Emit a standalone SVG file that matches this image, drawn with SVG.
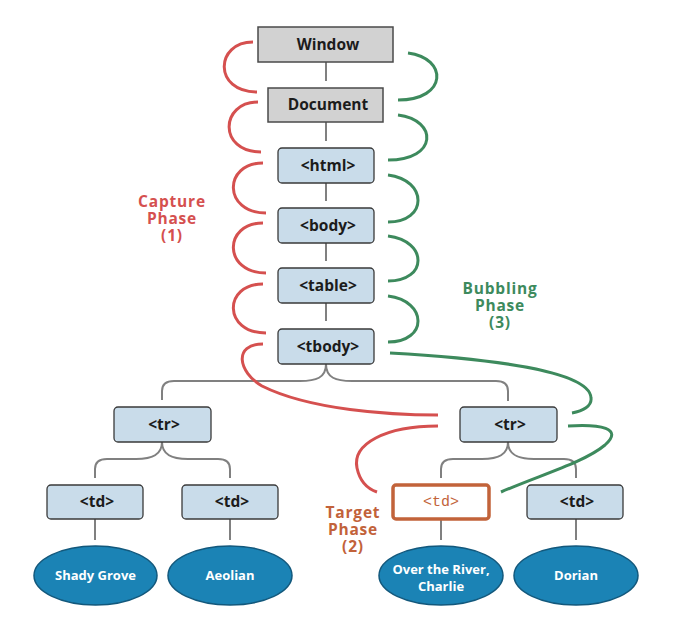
<svg xmlns="http://www.w3.org/2000/svg" width="680" height="618" viewBox="0 0 680 618">
<style>
.gray{fill:#d2d2d2;stroke:#4a4a4a;stroke-width:1.5}
.node{fill:#c9dcea;stroke:#3a3a3a;stroke-width:1.3}
.leaf{fill:#1b83b5;stroke:#12587c;stroke-width:1.5}
.lbl{font-family:"Open Sans","Liberation Sans",sans-serif;font-weight:bold;font-size:15.5px;fill:#1c1c1c;text-anchor:middle}
.ltxt{font-family:"Open Sans","Liberation Sans",sans-serif;font-weight:bold;font-size:13px;fill:#ffffff;text-anchor:middle}
.phase{font-family:"Open Sans","Liberation Sans",sans-serif;font-weight:bold;font-size:15.5px;letter-spacing:0.8px;text-anchor:middle}
.tree{fill:none;stroke:#808080;stroke-width:2}
.cap{fill:none;stroke:#d5504f;stroke-width:3;stroke-linecap:butt}
.bub{fill:none;stroke:#3d8a5d;stroke-width:3;stroke-linecap:butt}
</style>
<g id="connectors">
<path class="tree" d="M326 62 V81 M326 122 V141 M326 183 V201 M326 243 V261 M326 303 V321"/>
<path class="tree" d="M326 364 C326 378 316 381 300 381 L174 381 Q162 381 162 391 V400 M326 364 C326 378 336 381 352 381 L496 381 Q508 381 508 391 V401"/>
<path class="tree" d="M162 442 C162 455 152 459 136 459 L107 459 Q95 459 95 469 V478 M162 442 C162 455 172 459 188 459 L218 459 Q230 459 230 469 V478"/>
<path class="tree" d="M508 442 C508 455 498 459 482 459 L453 459 Q441 459 441 469 V478 M508 442 C508 455 518 459 534 459 L564 459 Q576 459 576 469 V478"/>
<path class="tree" d="M95 519 V540 M230 519 V540 M441 519 V540 M576 519 V540"/>
</g>
<g id="capture">
<path class="cap" d="M253 42 C215 42 213 92 257 92"/>
<path class="cap" d="M258 102 C220 102 218 152 261 152"/>
<path class="cap" d="M263 163 C223 163 223 213 266 213"/>
<path class="cap" d="M263 223 C223 223 223 273 266 273"/>
<path class="cap" d="M263 284 C223 284 223 333 266 333"/>
<path class="cap" d="M263 344 C233 344 238 372 262 386 C310 410 390 415 438 415"/>
<path class="cap" d="M438 426 C385 426 352 444 357 468 C360 482 368 489 377 492"/>
</g>
<g id="bubble">
<path class="bub" d="M408 53 C448 58 448 100 398 100"/>
<path class="bub" d="M398 115 C438 120 438 160 388 160"/>
<path class="bub" d="M388 175 C428 180 428 222 388 222"/>
<path class="bub" d="M388 236 C428 241 428 281 388 281"/>
<path class="bub" d="M388 296 C428 301 428 342 388 342"/>
<path class="bub" d="M390 353 C480 358 590 370 591 398 C592 406 583 411 572 413"/>
<path class="bub" d="M568 426 C600 424 624 428 605 445 C585 462 540 475 501 492"/>
</g>
<g id="window"><rect class="gray" x="258" y="27" width="135" height="35"/><text class="lbl" x="328" y="50">Window</text></g>
<g id="document"><rect class="gray" x="268" y="88" width="115" height="34"/><text class="lbl" x="328" y="110">Document</text></g>
<g id="html"><rect class="node" x="278" y="148" width="96" height="35" rx="4"/><text class="lbl" x="328" y="171">&lt;html&gt;</text></g>
<g id="body"><rect class="node" x="278" y="208" width="96" height="35" rx="4"/><text class="lbl" x="328" y="231">&lt;body&gt;</text></g>
<g id="table"><rect class="node" x="278" y="268" width="96" height="35" rx="4"/><text class="lbl" x="328" y="291">&lt;table&gt;</text></g>
<g id="tbody"><rect class="node" x="278" y="329" width="96" height="35" rx="4"/><text class="lbl" x="328" y="352">&lt;tbody&gt;</text></g>
<g id="tr1"><rect class="node" x="114" y="407" width="97" height="35" rx="4"/><text class="lbl" x="164" y="430">&lt;tr&gt;</text></g>
<g id="tr2"><rect class="node" x="460" y="407" width="97" height="35" rx="4"/><text class="lbl" x="510" y="430">&lt;tr&gt;</text></g>
<g id="td1"><rect class="node" x="47" y="485" width="96" height="34" rx="4"/><text class="lbl" x="97" y="507">&lt;td&gt;</text></g>
<g id="td2"><rect class="node" x="182" y="485" width="96" height="34" rx="4"/><text class="lbl" x="232" y="507">&lt;td&gt;</text></g>
<g id="td3"><rect x="393" y="485" width="96" height="34" rx="3" fill="#ffffff" stroke="#c2633a" stroke-width="3.5"/><text x="441" y="506" font-family="'Liberation Mono','DejaVu Sans Mono',monospace" font-size="15" fill="#c2633a" text-anchor="middle">&lt;td&gt;</text></g>
<g id="td4"><rect class="node" x="527" y="485" width="96" height="34" rx="4"/><text class="lbl" x="577" y="507">&lt;td&gt;</text></g>
<g id="leaf1"><ellipse class="leaf" cx="95.5" cy="575.5" rx="61.5" ry="29.5"/><text class="ltxt" x="95.5" y="580">Shady Grove</text></g>
<g id="leaf2"><ellipse class="leaf" cx="230" cy="575.5" rx="62" ry="29.5"/><text class="ltxt" x="230" y="580">Aeolian</text></g>
<g id="leaf3"><ellipse class="leaf" cx="441" cy="575.5" rx="62" ry="29.5"/><text class="ltxt" x="441" y="574">Over the River,</text><text class="ltxt" x="441" y="591">Charlie</text></g>
<g id="leaf4"><ellipse class="leaf" cx="576" cy="575.5" rx="62" ry="29.5"/><text class="ltxt" x="576" y="580">Dorian</text></g>
<g id="capture-label" class="phase" fill="#d5504f"><text x="172" y="207">Capture</text><text x="172" y="224">Phase</text><text x="172" y="241">(1)</text></g>
<g id="bubbling-label" class="phase" fill="#3d8a5d"><text x="500" y="294">Bubbling</text><text x="500" y="311">Phase</text><text x="500" y="328">(3)</text></g>
<g id="target-label" class="phase" fill="#c2623a"><text x="353" y="518">Target</text><text x="353" y="535">Phase</text><text x="353" y="552">(2)</text></g>
</svg>
